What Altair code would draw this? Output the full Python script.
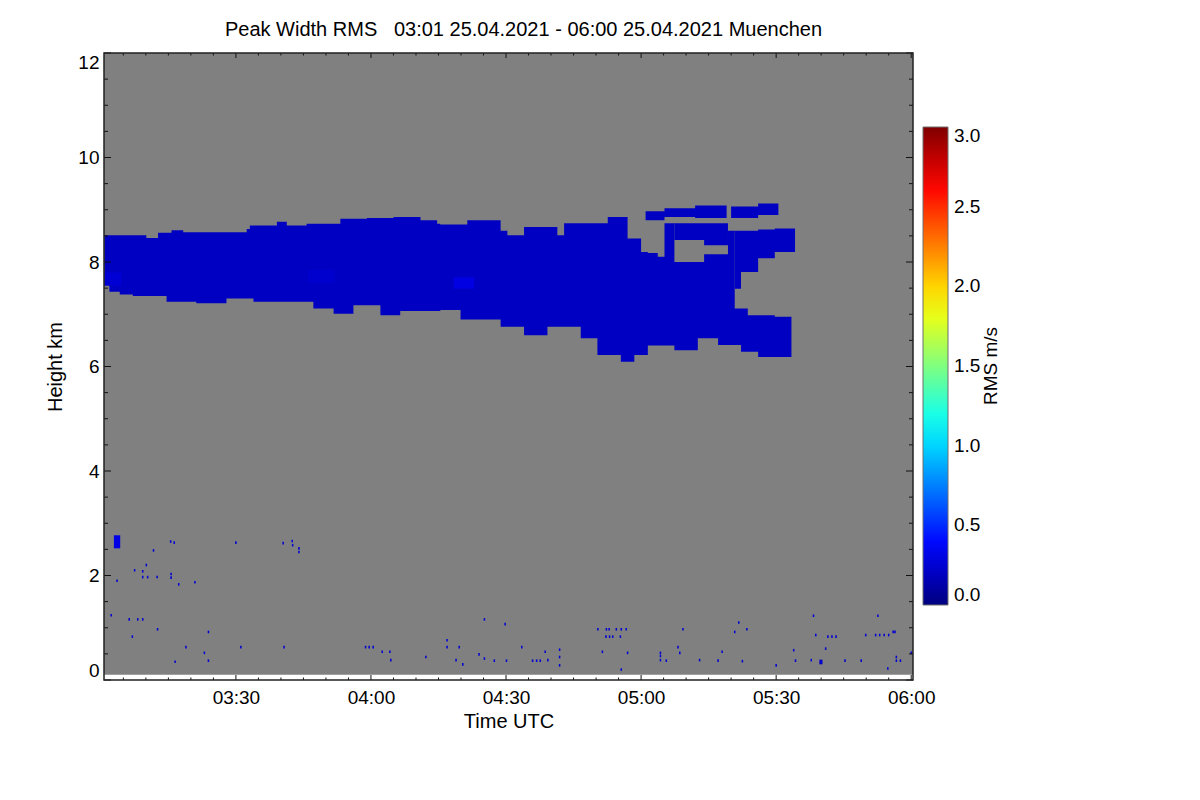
import altair as alt
import pandas as pd

FONT = "Liberation Sans"
W, H = 809, 627

# ---------------- axes / ticks / labels ----------------
x_domain = [180.7, 360.4]          # minutes after 00:00 UTC
y_domain = [0, 12]                 # km
x_major = [210, 240, 270, 300, 330, 360]
x_minor = [185, 190, 195, 200, 205, 215, 220, 225, 230, 235, 245, 250, 255, 260, 265,
           275, 280, 285, 290, 295, 305, 310, 315, 320, 325, 335, 340, 345, 350, 355]
y_major = [0, 2, 4, 6, 8, 10, 12]
y_minor = [0.5, 1, 1.5, 2.5, 3, 3.5, 4.5, 5, 5.5, 6.5, 7, 7.5, 8.5, 9, 9.5, 10.5, 11, 11.5]
cbar_values = [0.0, 0.5, 1.0, 1.5, 2.0, 2.5, 3.0]
cbar_title = ["RMS m/s"]
cmap_stops = [0.0, 0.375, 1.125, 1.875, 2.625, 3.0]
cmap_colors = ["#00007f", "#0000ff", "#00ffff", "#ffff00", "#ff0000", "#7f0000"]

# ---------------- range gates (no-data gray) ----------------
gate_t = [180.7, 360.4]
gate_h = [0.1, 12.0]

# ---------------- cloud pieces: column edges, bottom and top of each column ----------------
body_edges = [180.8, 181.9, 184.2, 187.1, 190.1, 192.7, 194.6, 195.7, 198.3, 201.2,
              207.9, 212.4, 213.1, 213.9, 219.1, 221.3, 225.7, 227.2, 231.7, 233.2,
              236.1, 239.1, 242.1, 245.0, 246.5, 251.0, 254.7, 255.4, 259.9, 261.4,
              268.8, 270.3, 274.0, 279.2, 281.4, 282.9, 286.6, 290.3, 292.6, 295.5,
              297.0, 298.5, 300.0, 301.5, 303.7, 305.2, 307.4, 312.6, 314.0, 317.1,
              319.3, 320.8, 322.2, 323.7, 326.0, 329.7, 333.4]
body_bot = [7.55, 7.43, 7.38, 7.35, 7.35, 7.35, 7.24, 7.24, 7.24, 7.21,
            7.30, 7.30, 7.30, 7.24, 7.24, 7.24, 7.24, 7.11, 7.01, 7.01,
            7.17, 7.17, 6.98, 6.98, 7.06, 7.06, 7.06, 7.08, 6.90, 6.90,
            6.76, 6.76, 6.60, 6.76, 6.76, 6.76, 6.54, 6.22, 6.22, 6.09,
            6.09, 6.22, 6.22, 6.40, 6.40, 6.40, 6.31, 6.54, 6.54, 6.41,
            6.41, 6.41, 6.28, 6.28, 6.18, 6.18]
body_top = [8.51, 8.51, 8.51, 8.51, 8.46, 8.56, 8.56, 8.61, 8.57, 8.57,
            8.57, 8.63, 8.70, 8.70, 8.77, 8.70, 8.73, 8.73, 8.73, 8.83,
            8.83, 8.84, 8.84, 8.86, 8.86, 8.80, 8.73, 8.72, 8.72, 8.80,
            8.60, 8.51, 8.67, 8.67, 8.51, 8.74, 8.74, 8.74, 8.86, 8.86,
            8.45, 8.45, 8.19, 8.17, 8.10, 8.74, 8.00, 8.00, 8.15, 8.15,
            8.60, 7.11, 7.11, 6.98, 6.98, 6.95]

shelf_edges = [307.4, 314.0, 319.3]
shelf_bot = [8.42, 8.32]
shelf_top = [8.74, 8.74]

lobe_edges = [320.8, 322.2, 326.0, 329.7, 334.2]
lobe_bot = [7.49, 7.81, 8.07, 8.19]
lobe_top = [8.60, 8.60, 8.62, 8.64]

bandA_edges = [301.0, 305.2, 312.0, 319.0]
bandA_bot = [8.80, 8.86, 8.84]
bandA_top = [8.97, 9.03, 9.08]

bandB_edges = [320.0, 326.0, 330.5]
bandB_bot = [8.84, 8.90]
bandB_top = [9.06, 9.12]

piece_names = ["body", "shelf", "lobe", "bandA", "bandB"]
piece_val = [0.20, 0.20, 0.20, 0.20, 0.20]

# ---------------- brighter patches and low-level blobs ----------------
patch_t0 = [180.8, 258.4, 226.0, 182.9, 339.6]
patch_t1 = [184.5, 262.9, 232.0, 184.3, 340.3]
patch_bot = [7.55, 7.49, 7.60, 2.52, 0.30]
patch_top = [7.80, 7.71, 7.85, 2.77, 0.39]
patch_val = [0.25, 0.29, 0.23, 0.30, 0.22]

# ---------------- isolated low-level echoes ----------------
dot_t = [195.5, 196.3, 210.0, 220.5, 222.5, 222.6, 224.0, 224.0, 191.7, 190.1,
         187.5, 189.3, 189.3, 190.4, 183.6, 192.5, 195.6, 195.6, 197.3, 200.9,
         182.3, 186.3, 188.2, 189.3, 187.0, 192.6, 196.5, 198.9, 203.0, 203.9,
         203.9, 211.1, 220.7, 238.8, 239.6, 240.5, 242.5, 244.2, 244.4, 252.2,
         256.9, 256.9, 259.6, 258.9, 260.4, 264.0, 265.2, 265.2, 267.4, 269.8,
         270.1, 273.5, 275.9, 276.8, 277.6, 278.7, 279.3, 281.9, 281.9, 281.9,
         290.4, 292.3, 292.9, 294.5, 295.6, 296.7, 292.2, 293.0, 293.7, 295.4,
         291.4, 297.0, 295.6, 304.3, 304.3, 304.3, 305.6, 308.2, 308.6, 309.3,
         313.0, 317.1, 318.0, 320.8, 321.7, 323.5, 322.5, 330.0, 333.9, 334.3,
         337.8, 338.3, 338.8, 341.0, 341.5, 342.4, 343.3, 345.3, 348.9, 349.9,
         352.1, 353.0, 354.0, 355.0, 352.6, 354.8, 356.0, 356.4, 356.7, 356.7,
         357.6, 360.0]
dot_h = [2.65, 2.63, 2.63, 2.62, 2.66, 2.58, 2.52, 2.45, 2.48, 2.20,
         2.10, 2.08, 1.97, 1.97, 1.90, 1.97, 2.03, 1.96, 1.83, 1.87,
         1.24, 1.16, 1.16, 1.16, 0.83, 0.97, 0.35, 0.63, 0.52, 0.92,
         0.37, 0.63, 0.63, 0.63, 0.63, 0.63, 0.54, 0.54, 0.38, 0.44,
         0.76, 0.63, 0.63, 0.38, 0.30, 0.49, 1.16, 0.41, 0.37, 1.07,
         0.37, 0.63, 0.37, 0.37, 0.37, 0.54, 0.38, 0.58, 0.44, 0.28,
         0.97, 0.97, 0.97, 0.97, 0.97, 0.97, 0.83, 0.83, 0.83, 0.83,
         0.54, 0.52, 0.20, 0.52, 0.46, 0.38, 0.37, 0.63, 0.52, 0.97,
         0.38, 0.37, 0.54, 0.92, 1.10, 0.97, 0.36, 0.28, 0.57, 0.37,
         0.38, 1.23, 0.86, 0.60, 0.83, 0.83, 0.83, 0.37, 0.37, 0.86,
         0.86, 0.86, 0.86, 0.86, 1.23, 0.22, 0.92, 0.92, 0.44, 0.37,
         0.37, 0.52]
dot_val = 0.25

# ---------------- build tables ----------------
gate_df = pd.DataFrame({"t0": [gate_t[0]], "t1": [gate_t[1]], "h0": [gate_h[0]], "h1": [gate_h[1]]})

pieces = [(body_edges, body_bot, body_top), (shelf_edges, shelf_bot, shelf_top),
          (lobe_edges, lobe_bot, lobe_top), (bandA_edges, bandA_bot, bandA_top),
          (bandB_edges, bandB_bot, bandB_top)]
area_rows = []
for name, val, (edges, bots, tops) in zip(piece_names, piece_val, pieces):
    for i, e in enumerate(edges):
        j = min(i, len(bots) - 1)      # last edge closes the final column (step-after)
        area_rows.append({"piece": name, "t": e, "h0": bots[j], "h1": tops[j], "v": val})
area_df = pd.DataFrame(area_rows)

patch_df = pd.DataFrame({"t0": patch_t0, "t1": patch_t1, "h0": patch_bot, "h1": patch_top,
                         "v": patch_val})
dots_df = pd.DataFrame({"t0": [t - 0.17 for t in dot_t], "t1": [t + 0.17 for t in dot_t],
                        "h0": [h - 0.025 for h in dot_h], "h1": [h + 0.025 for h in dot_h],
                        "v": dot_val})
cells_df = pd.concat([patch_df, dots_df], ignore_index=True)

xs = alt.Scale(domain=x_domain, nice=False, zero=False)
ys = alt.Scale(domain=y_domain, nice=False, zero=False)

x_axis = alt.Axis(values=x_major, labelExpr="utcFormat(datum.value * 60000, '%H:%M')",
                  ticks=False, domain=False, grid=False, labelFontSize=19, labelPadding=8,
                  labelColor="black", labelFont=FONT, title="Time UTC", titleFontSize=20,
                  titleFontWeight="normal", titlePadding=4, titleColor="black", titleFont=FONT)
y_axis = alt.Axis(values=y_major, format="d", ticks=False, domain=False, grid=False,
                  labelFontSize=19, labelPadding=5, labelFlush=True, labelColor="black",
                  labelFont=FONT, title="Height km", titleFontSize=20, titleFontWeight="normal",
                  titlePadding=12, titleColor="black", titleFont=FONT)


def X(f):
    return alt.X(f, type="quantitative", scale=xs, axis=x_axis)


def Y(f):
    return alt.Y(f, type="quantitative", scale=ys, axis=y_axis)


cscale = alt.Scale(domain=cmap_stops, range=cmap_colors, interpolate="rgb")
legend = alt.Legend(type="gradient", orient="none", legendX=819, legendY=74, direction="vertical",
                    gradientLength=478, gradientThickness=25, gradientStrokeColor="#6e6e6e",
                    gradientStrokeWidth=1, values=cbar_values, format=".1f",
                    labelFont=FONT, labelFontSize=19, labelColor="black", labelOffset=6,
                    title=None, padding=0)
fill = alt.Color("v:Q", scale=cscale, legend=legend)

bg = alt.Chart(gate_df).mark_rect(color="#808080").encode(
    x=X("t0"), x2="t1", y=Y("h0"), y2="h1")

clouds = alt.Chart(area_df).mark_area(interpolate="step-after", strokeWidth=0).encode(
    x=X("t"), y=Y("h0"), y2="h1", color=fill, detail="piece:N")

cells = alt.Chart(cells_df).mark_rect(strokeWidth=0).encode(
    x=X("t0"), x2="t1", y=Y("h0"), y2="h1", color=fill)

xmaj_df = pd.DataFrame({"t": x_major})
xmin_df = pd.DataFrame({"t": x_minor})
ymaj_df = pd.DataFrame({"h": y_major})
ymin_df = pd.DataFrame({"h": y_minor})

tick_style = dict(color="#111111", strokeWidth=1)
rules = [
    alt.Chart(xmaj_df).mark_rule(**tick_style).encode(x=X("t"), y=alt.value(H), y2=alt.value(H - 5)),
    alt.Chart(xmin_df).mark_rule(**tick_style).encode(x=X("t"), y=alt.value(H), y2=alt.value(H - 2.5)),
    alt.Chart(xmaj_df).mark_rule(**tick_style).encode(x=X("t"), y=alt.value(0), y2=alt.value(5)),
    alt.Chart(xmin_df).mark_rule(**tick_style).encode(x=X("t"), y=alt.value(0), y2=alt.value(2.5)),
    alt.Chart(ymaj_df).mark_rule(**tick_style).encode(y=Y("h"), x=alt.value(0), x2=alt.value(7)),
    alt.Chart(ymin_df).mark_rule(**tick_style).encode(y=Y("h"), x=alt.value(0), x2=alt.value(4)),
    alt.Chart(ymaj_df).mark_rule(**tick_style).encode(y=Y("h"), x=alt.value(W), x2=alt.value(W - 7)),
    alt.Chart(ymin_df).mark_rule(**tick_style).encode(y=Y("h"), x=alt.value(W), x2=alt.value(W - 4)),
]

frame = alt.Chart(gate_df).mark_rect(fillOpacity=0, stroke="#222222", strokeWidth=1.5).encode(
    x=alt.value(0), x2=alt.value(W), y=alt.value(0), y2=alt.value(H))

cbar_label = alt.Chart(pd.DataFrame({"label": cbar_title})).mark_text(
    angle=270, font=FONT, fontSize=19, color="black", align="center", baseline="alphabetic"
).encode(x=alt.value(893), y=alt.value(313), text="label:N")

title_text = "Peak Width RMS\u00a0\u00a0\u00a003:01 25.04.2021 - 06:00 25.04.2021 Muenchen"

chart = alt.layer(bg, clouds, cells, *rules, frame, cbar_label).properties(
    width=W, height=H,
    title=alt.TitleParams(title_text, font=FONT, fontSize=20, fontWeight="normal", color="black",
                          anchor="middle", frame="group", offset=12, dx=15),
    autosize=alt.AutoSizeParams(type="none"),
    padding={"left": 96, "top": 45, "right": 279, "bottom": 112},
).configure(font=FONT).configure_view(stroke=None)

chart.save("out.html", embed_options={"renderer": "svg", "actions": False})
